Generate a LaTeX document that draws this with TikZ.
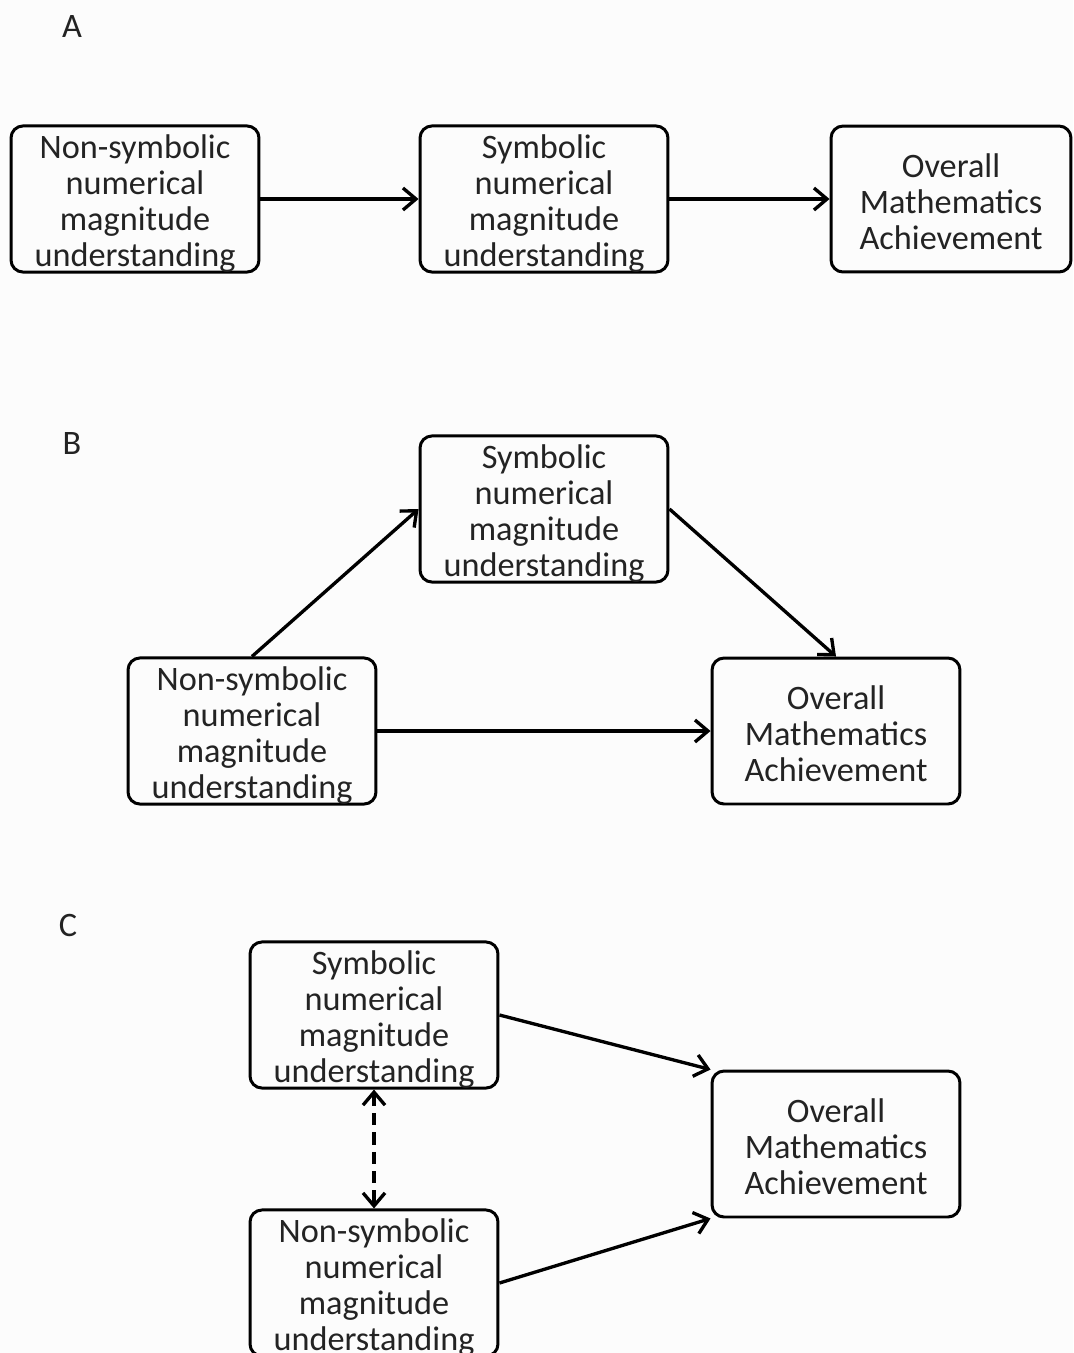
\documentclass[tikz,border=0pt]{standalone}
\usepackage{fontspec}
\setmainfont{Carlito}
\usetikzlibrary{arrows.meta}
\newcommand{\lowerfour}{\rule{0pt}{18.6pt}}
\newcommand{\lowerthree}{\rule{0pt}{16.8pt}}

\begin{document}
\begin{tikzpicture}[x=0.02cm,y=0.02cm]
\tikzstyle{every node}+=[inner sep=0pt, text={rgb,255:red,35;green,35;blue,35}, font=\fontsize{19.5pt}{20.4pt}\selectfont]
\tikzstyle{box}=[draw=black, line width=1.7pt, rounded corners=0.24cm, minimum width=4.96cm, minimum height=2.92cm, align=center]
\tikzstyle{link}=[line width=1.9pt, -{Straight Barb[length=2.6mm,width=4.4mm,line width=1.9pt]}]
\tikzstyle{both}=[line width=1.9pt, dashed, dash pattern=on 7pt off 4pt, {Straight Barb[length=2.6mm,width=4.4mm,line width=1.9pt]}-{Straight Barb[length=2.6mm,width=4.4mm,line width=1.9pt]}]
\useasboundingbox [fill={rgb,255:red,252;green,252;blue,252}] (0,0) rectangle (1073,-1353);
\draw (72,-27) node (labA) {A};
\draw (72,-443) node (labB) {B};
\draw (68,-925) node (labC) {C};
\node [box] (nsA) at (135,-199) {\lowerfour Non-symbolic\\numerical\\magnitude\\understanding};
\node [box] (sA) at (544,-199) {\lowerfour Symbolic\\numerical\\magnitude\\understanding};
\node [box, minimum width=4.8cm] (oaA) at (951,-199) {\lowerthree Overall\\Mathematics\\Achievement};
\draw [link] (nsA.east) -- (sA.west);
\draw [link] (sA.east) -- (oaA.west);
\node [box] (sB) at (544,-509) {\lowerfour Symbolic\\numerical\\magnitude\\understanding};
\node [box] (nsB) at (252,-731) {\lowerfour Non-symbolic\\numerical\\magnitude\\understanding};
\node [box] (oaB) at (836,-731) {\lowerthree Overall\\Mathematics\\Achievement};
\draw [link] (nsB.north) -- (sB.west);
\draw [link] (sB.east) -- (oaB.north);
\draw [link] (nsB.east) -- (oaB.west);
\node [box] (sC) at (374,-1015) {\lowerfour Symbolic\\numerical\\magnitude\\understanding};
\node [box] (nsC) at (374,-1283) {\lowerfour Non-symbolic\\numerical\\magnitude\\understanding};
\node [box] (oaC) at (836,-1144) {\lowerthree Overall\\Mathematics\\Achievement};
\draw [link] (sC.east) -- (oaC.north west);
\draw [link] (nsC.east) -- (oaC.south west);
\draw [both] (sC.south) -- (nsC.north);
\end{tikzpicture}
\end{document}
